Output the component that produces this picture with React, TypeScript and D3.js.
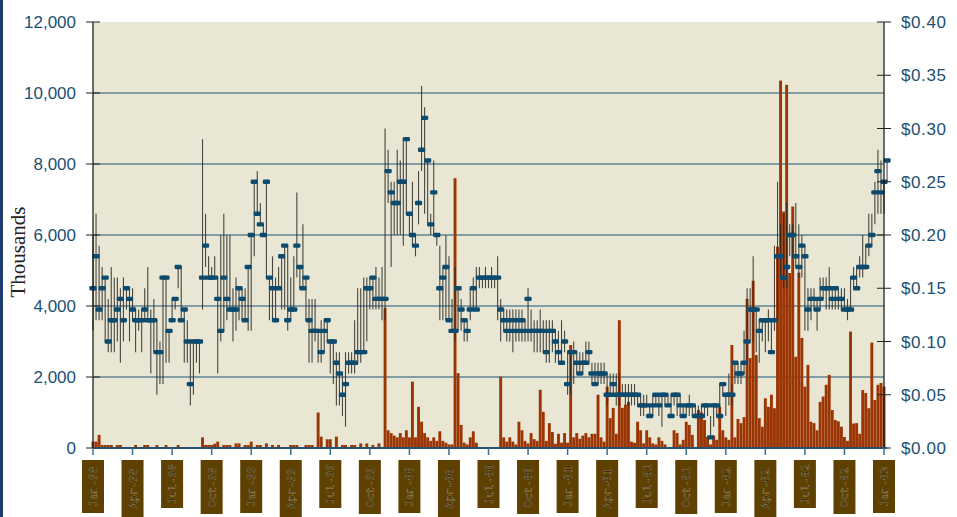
import React from "react";
import * as d3 from "d3";

const WIDTH = 957;
const HEIGHT = 517;
const margin = { top: 22, right: 73, bottom: 69, left: 93 };

// quarter tick labels (every 13 weeks)
const quarterLabels = [
  "Jan-98", "Apr-98", "Jul-98", "Oct-98",
  "Jan-99", "Apr-99", "Jul-99", "Oct-99",
  "Jan-00", "Apr-00", "Jul-00", "Oct-00",
  "Jan-01", "Apr-01", "Jul-01", "Oct-01",
  "Jan-02", "Apr-02", "Jul-02", "Oct-02",
  "Jan-03",
];

const volumeTicks = [0, 2000, 4000, 6000, 8000, 10000, 12000];
const priceTicks = [0, 0.05, 0.1, 0.15, 0.2, 0.25, 0.3, 0.35, 0.4];

// weekly close, in cents
const closeCents = [
  15, 18, 13, 15, 16, 10, 12, 12, 13, 14,
  12, 15, 14, 13, 12, 12, 12, 13, 12, 12,
  12, 9, 9, 16, 16, 11, 12, 14, 17, 12,
  13, 10, 6, 10, 10, 10, 16, 19, 16, 16,
  16, 14, 11, 16, 14, 13, 13, 13, 15, 14,
  12, 17, 20, 25, 22, 21, 20, 25, 16, 15,
  12, 15, 18, 19, 12, 13, 13, 19, 17, 15,
  16, 12, 11, 11, 11, 9, 11, 12, 10, 10,
  8, 7, 5, 6, 8, 8, 8, 9, 9, 9,
  15, 15, 16, 14, 14, 14, 14, 26, 24, 23,
  23, 25, 25, 29, 22, 20, 19, 23, 28, 31,
  27, 21, 24, 20, 15, 16, 17, 12, 11, 11,
  15, 13, 12, 11, 13, 15, 13, 16, 16, 16,
  16, 16, 16, 16, 13, 12, 11, 12, 11, 12,
  11, 12, 11, 14, 11, 11, 11, 11, 11, 9,
  11, 11, 10, 9, 8, 10, 6, 9, 9, 8,
  7, 8, 8, 9, 7, 6, 7, 7, 7, 5,
  5, 6, 5, 5, 5, 5, 5, 5, 5, 5,
  4, 4, 4, 3, 4, 5, 4, 5, 5, 4,
  3, 5, 5, 4, 3, 4, 4, 4, 3, 3,
  3, 4, 4, 1, 4, 4, 3, 6, 5, 5,
  5, 8, 7, 7, 8, 10, 13, 13, 13, 11,
  12, 12, 12, 9, 12, 18, 18, 16, 17, 20,
  20, 18, 17, 19, 18, 13, 14, 14, 13, 14,
  15, 15, 15, 14, 15, 14, 14, 13, 13, 13,
  16, 15, 17, 17, 17, 19, 20, 24, 26, 24,
  25, 27,
];

// weekly high, in cents
const highCents = [
  20, 22, 19, 17, 16, 14, 17, 16, 16, 15,
  16, 15, 15, 15, 13, 13, 13, 15, 17, 13,
  14, 12, 10, 16, 16, 11, 14, 14, 17, 17,
  13, 12, 10, 10, 10, 10, 29, 22, 18, 17,
  18, 16, 20, 22, 20, 20, 15, 16, 15, 15,
  15, 17, 20, 25, 26, 23, 21, 25, 16, 18,
  16, 17, 18, 19, 19, 16, 18, 24, 17, 21,
  16, 14, 14, 14, 11, 12, 12, 12, 10, 10,
  9, 9, 7, 9, 9, 9, 12, 15, 15, 16,
  16, 16, 16, 17, 16, 17, 30, 28, 25, 25,
  28, 27, 29, 29, 22, 25, 20, 26, 34, 32,
  27, 22, 27, 20, 19, 17, 20, 18, 14, 17,
  15, 14, 12, 12, 15, 16, 17, 17, 16, 17,
  16, 17, 16, 18, 14, 13, 13, 13, 13, 13,
  13, 13, 12, 15, 13, 12, 12, 13, 12, 12,
  12, 12, 11, 11, 12, 11, 9, 9, 10, 9,
  9, 9, 10, 10, 8, 8, 8, 8, 8, 7,
  7, 7, 7, 7, 6, 6, 6, 6, 6, 5,
  5, 5, 5, 4, 5, 5, 5, 5, 5, 5,
  5, 5, 5, 5, 4, 4, 5, 4, 4, 4,
  4, 4, 4, 3, 4, 4, 6, 6, 5, 7,
  6, 8, 8, 8, 11, 15, 15, 18, 13, 12,
  12, 12, 13, 12, 19, 25, 21, 22, 23, 21,
  21, 23, 21, 20, 19, 15, 15, 15, 14, 16,
  16, 16, 17, 15, 15, 15, 15, 15, 14, 16,
  17, 17, 18, 20, 19, 22, 22, 25, 28, 27,
  25, 27,
];

// weekly low, in cents
const lowCents = [
  11, 12, 12, 12, 10, 9, 9, 9, 10, 8,
  10, 13, 10, 12, 9, 11, 9, 12, 12, 7,
  9, 5, 6, 6, 8, 8, 12, 13, 15, 12,
  8, 8, 4, 5, 8, 7, 13, 17, 16, 16,
  16, 7, 10, 11, 12, 13, 10, 11, 12, 12,
  12, 11, 11, 18, 22, 21, 20, 16, 12, 12,
  12, 15, 13, 13, 11, 12, 13, 16, 15, 15,
  12, 8, 8, 10, 8, 8, 9, 10, 7, 6,
  4, 4, 3, 2, 7, 7, 7, 8, 8, 9,
  10, 13, 13, 13, 13, 12, 12, 23, 17, 20,
  20, 20, 19, 22, 20, 19, 18, 21, 26, 22,
  21, 20, 20, 19, 12, 12, 12, 12, 11, 10,
  11, 11, 10, 10, 12, 13, 13, 15, 15, 15,
  15, 15, 15, 12, 10, 11, 10, 10, 9, 10,
  10, 10, 10, 10, 10, 9, 9, 9, 9, 8,
  8, 9, 8, 8, 8, 9, 5, 5, 6, 7,
  7, 7, 8, 8, 6, 6, 6, 6, 6, 4,
  5, 5, 4, 4, 5, 4, 4, 4, 4, 4,
  3, 3, 4, 3, 3, 4, 3, 2, 4, 4,
  3, 4, 3, 3, 3, 3, 3, 3, 3, 3,
  3, 3, 3, 1, 2, 3, 3, 5, 3, 4,
  4, 6, 6, 6, 7, 8, 10, 10, 9, 8,
  10, 9, 10, 9, 11, 12, 16, 15, 15, 18,
  18, 17, 16, 16, 11, 11, 12, 13, 11, 13,
  14, 13, 13, 13, 13, 13, 13, 13, 12, 13,
  15, 15, 16, 16, 17, 18, 19, 21, 22, 22,
  22, 25,
];

// weekly volume, in thousands of shares
const volumeK = [
  180, 180, 370, 85, 85, 85, 85, 0, 85, 85,
  0, 0, 0, 0, 85, 0, 0, 85, 85, 0,
  0, 85, 0, 0, 85, 0, 0, 0, 85, 0,
  0, 0, 0, 0, 0, 0, 300, 85, 85, 85,
  120, 180, 0, 85, 85, 85, 0, 130, 130, 0,
  85, 85, 180, 0, 85, 85, 0, 130, 0, 85,
  0, 85, 0, 0, 0, 85, 85, 85, 0, 0,
  85, 85, 85, 0, 1000, 320, 0, 245, 245, 0,
  320, 0, 85, 85, 0, 85, 85, 0, 130, 0,
  130, 0, 85, 0, 130, 0, 3950, 500, 420, 350,
  300, 420, 300, 500, 300, 1870, 300, 1160, 740, 420,
  300, 200, 300, 200, 470, 200, 150, 100, 100, 7600,
  2110, 650, 150, 100, 300, 470, 150, 0, 0, 0,
  0, 0, 0, 0, 2010, 300, 180, 300, 180, 100,
  740, 500, 200, 130, 420, 250, 200, 1640, 1020, 200,
  700, 450, 120, 400, 150, 420, 150, 2900, 300, 420,
  260, 350, 420, 300, 400, 400, 1500, 300, 180, 1730,
  840, 1130, 400, 3600, 1130, 1220, 1300, 180, 150, 740,
  500, 130, 500, 300, 130, 100, 300, 200, 100, 0,
  0, 500, 420, 100, 230, 740, 650, 370, 30, 1070,
  1000, 790, 310, 100, 350, 230, 1160, 500, 300, 230,
  2900, 300, 820, 700, 870, 4200, 2530, 4710, 2620, 840,
  600, 1400, 1160, 1500, 1120, 5670, 10350, 6660, 10230, 4930,
  6800, 2570, 4940, 3100, 1730, 2340, 740, 700, 500, 1300,
  1450, 1780, 2060, 1070, 790, 750, 600, 310, 200, 3280,
  690, 700, 400, 1630, 1550, 1120, 2970, 1350, 1780, 1830,
  1730, 0,
];

const weeks = closeCents.map((c, i) => ({
  i,
  close: c / 100,
  high: Math.max(highCents[i], c) / 100,
  low: Math.min(lowCents[i], c) / 100,
  volume: volumeK[i],
}));

const labelFont = "'Liberation Sans', Arial, sans-serif";

export default function App() {
  const x0 = margin.left;
  const x1 = WIDTH - margin.right;
  const y0 = HEIGHT - margin.bottom;
  const y1 = margin.top;

  const xScale = d3.scaleLinear().domain([0, 260]).range([x0, x1]);
  const yVol = d3.scaleLinear().domain([0, 12000]).range([y0, y1]);
  const yPrice = d3.scaleLinear().domain([0, 0.4]).range([y0, y1]);
  const money = d3.format("$.2f");
  const comma = d3.format(",");

  const barW = 2.9;
  const boxH: Record<string, number> = { Jan: 53, Apr: 57, Jul: 48, Oct: 54 };

  return (
    <svg
      width={WIDTH}
      height={HEIGHT}
      style={{ position: "absolute", left: 0, top: 0, background: "#fff" }}
    >
      {/* left page edge */}
      <line x1={1.5} x2={1.5} y1={0} y2={HEIGHT} stroke="#1d3d6e" strokeWidth={3} />

      {/* plot background */}
      <rect x={x0} y={y1} width={x1 - x0} height={y0 - y1} fill="#e9e6d3" />

      {/* gridlines */}
      {volumeTicks.slice(1, -1).map((t) => (
        <line key={t} x1={x0} x2={x1} y1={yVol(t)} y2={yVol(t)} stroke="#1c5677" strokeWidth={1.1} />
      ))}

      {/* volume bars */}
      {weeks.filter((d) => d.volume > 0).map((d) => (
        <rect
          key={"v" + d.i}
          x={xScale(d.i) - barW / 2}
          y={yVol(d.volume)}
          width={barW}
          height={y0 - yVol(d.volume)}
          fill="#9b3604"
        />
      ))}

      {/* high-low whiskers */}
      {weeks.map((d) => (
        <line
          key={"w" + d.i}
          x1={xScale(d.i)}
          x2={xScale(d.i)}
          y1={yPrice(d.high)}
          y2={yPrice(d.low)}
          stroke="#2a2a26"
          strokeOpacity={0.85}
          strokeWidth={1.1}
        />
      ))}

      {/* close markers */}
      {weeks.map((d) => (
        <rect
          key={"c" + d.i}
          x={xScale(d.i) - 3.6}
          y={yPrice(d.close) - 2.2}
          width={7.2}
          height={4.4}
          rx={1.3}
          fill="#0c4a6e"
        />
      ))}

      {/* left axis */}
      <line x1={x0} x2={x0} y1={y1} y2={y0} stroke="#111" strokeWidth={1.2} />
      {volumeTicks.map((t) => (
        <g key={"lt" + t}>
          <line x1={x0 - 7} x2={x0 + 7} y1={yVol(t)} y2={yVol(t)} stroke="#222" strokeWidth={1} />
          <text
            x={x0 - 17}
            y={yVol(t)}
            dy="0.36em"
            textAnchor="end"
            fontFamily={labelFont}
            fontSize={17}
            fill="#1b4f72"
          >
            {comma(t)}
          </text>
        </g>
      ))}

      {/* right axis */}
      <line x1={x1} x2={x1} y1={y1} y2={y0} stroke="#111" strokeWidth={1.2} />
      {priceTicks.map((t) => (
        <g key={"rt" + t}>
          <line x1={x1 - 7} x2={x1 + 7} y1={yPrice(t)} y2={yPrice(t)} stroke="#222" strokeWidth={1} />
          <text
            x={x1 + 17}
            y={yPrice(t)}
            dy="0.36em"
            textAnchor="start"
            fontFamily={labelFont}
            fontSize={17}
            letterSpacing={0.6}
            fill="#1b4f72"
          >
            {money(t)}
          </text>
        </g>
      ))}

      {/* bottom axis */}
      <line x1={x0} x2={x1 + 3} y1={y0} y2={y0} stroke="#2b4f6b" strokeWidth={2} />
      {quarterLabels.map((lab, k) => {
        const tx = xScale(k * 13);
        const h = boxH[lab.slice(0, 3)];
        return (
          <g key={lab}>
            <line x1={tx} x2={tx} y1={y0} y2={y0 + 7} stroke="#3b6f8f" strokeWidth={1.5} />
            <rect x={tx - 11} y={460} width={22} height={h} fill="#5e4100" />
            <text
              transform={`translate(${tx + 4},${460 + h / 2}) rotate(-90)`}
              textAnchor="middle"
              fontFamily="'DejaVu Sans Mono', monospace"
              fontSize={11}
              fill="#000"
              stroke="#b09a60"
              strokeWidth={0.4}
            >
              {lab}
            </text>
          </g>
        );
      })}

      {/* axis title */}
      <text
        transform={`translate(25,252) rotate(-90)`}
        textAnchor="middle"
        fontFamily="'Liberation Serif', 'Times New Roman', serif"
        fontSize={21}
        fill="#222"
      >
        Thousands
      </text>
    </svg>
  );
}
